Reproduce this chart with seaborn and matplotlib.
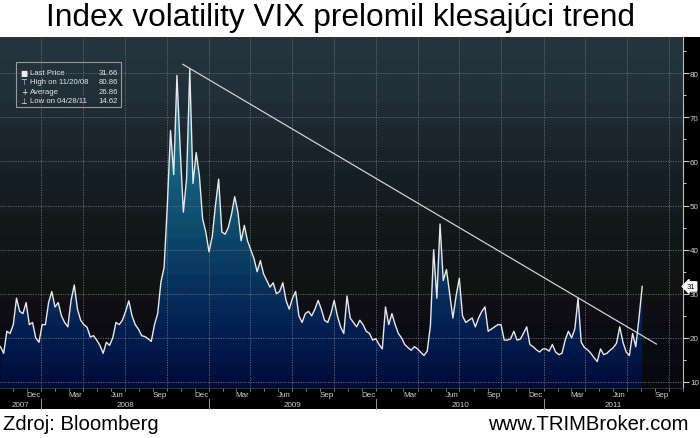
import numpy as np
import pandas as pd
import matplotlib
matplotlib.use("Agg")
import matplotlib.pyplot as plt
import matplotlib.dates as mdates
import matplotlib.transforms as mtransforms
from matplotlib.patches import Rectangle
from matplotlib.colors import to_rgb
import seaborn as sns

# ---------------- data ----------------
title = "Index volatility VIX prelomil klesajúci trend"
source_text = "Zdroj: Bloomberg"
site_text = "www.TRIMBroker.com"

start_date = "2007-10-04"          # first weekly (Thursday) observation
vix_weekly = [
    18.0, 16.5, 21.5, 21.0, 23.0, 29.0, 26.0, 25.5, 28.0, 23.0,
    23.5, 20.0, 19.0, 23.0, 23.0, 28.0, 30.5, 27.0, 28.0, 25.0,
    23.5, 22.5, 28.5, 32.0, 26.5, 24.0, 23.0, 22.4, 20.2, 20.5,
    19.5, 18.3, 16.5, 19.0, 18.3, 20.0, 23.5, 23.0, 24.0, 26.0,
    28.4, 25.0, 23.0, 22.0, 20.5, 20.3, 19.8, 19.2, 23.0, 25.5,
    32.6, 36.0, 50.0, 67.0, 57.0, 79.5, 63.0, 48.5, 56.0, 80.86,
    55.0, 62.0, 56.7, 47.0, 44.0, 39.5, 43.0, 50.0, 56.0, 44.0,
    43.5, 45.0, 48.0, 52.0, 48.5, 42.0, 45.5, 42.0, 40.0, 38.0,
    35.0, 37.5, 34.5, 33.0, 31.5, 32.5, 30.0, 30.5, 32.5, 28.5,
    26.5, 29.0, 30.5, 25.0, 23.5, 25.5, 26.0, 25.0, 26.5, 28.5,
    26.5, 24.0, 23.5, 25.5, 28.5, 25.0, 22.5, 21.0, 29.5, 24.5,
    23.5, 22.5, 24.0, 23.0, 21.5, 21.0, 19.5, 19.8, 18.5, 17.5,
    27.0, 23.0, 25.5, 23.0, 21.0, 20.0, 18.5, 17.8, 17.2, 18.0,
    17.5, 16.7, 16.0, 17.0, 22.8, 40.0, 29.0, 45.8, 33.0, 35.5,
    30.0, 24.5, 29.5, 33.5, 25.0, 23.5, 24.0, 24.5, 22.5, 24.5,
    26.0, 27.0, 21.5, 22.0, 22.5, 23.0, 23.0, 19.5, 19.5, 19.8,
    21.5, 19.5, 19.7, 21.0, 22.5, 18.5, 18.0, 17.3, 16.8, 17.5,
    17.5, 17.0, 18.5, 16.8, 16.2, 16.5, 19.5, 21.5, 20.0, 22.0,
    29.0, 19.0, 17.8, 17.3, 16.5, 15.5, 14.62, 17.5, 16.2, 16.5,
    17.2, 17.8, 18.8, 22.5, 19.0, 16.8, 16.0, 21.0, 18.0, 24.5,
    31.66,
]

trend_dates = ["2008-11-05", "2011-09-04"]
trend_values = [82.0, 18.6]

legend_labels = ["Last Price", "High on 11/20/08", "Average", "Low on 04/28/11"]
legend_values = ["31.66", "80.86", "26.86", "14.62"]
legend_icons = ["\u25A0", "\u22A4", "+", "\u22A5"]

y_ticks = [10, 20, 30, 40, 50, 60, 70, 80]
month_label_months = [12, 3, 6, 9]
year_labels = [2007, 2008, 2009, 2010, 2011]
last_tag = "31"

# ---------------- figure ----------------
W, H = 700, 439
fig = plt.figure(figsize=(W / 100, H / 100), dpi=100, facecolor="white")

chart_top, chart_bottom = 38, 410          # black Bloomberg panel (pixels)
ax_left, ax_right, ax_top, ax_bottom = 0, 683, 38, 389

fig.patches.append(Rectangle((0, (H - chart_bottom) / H), 1, (chart_bottom - chart_top) / H,
                             transform=fig.transFigure, facecolor="black", edgecolor="none", zorder=-5))

ax = fig.add_axes([ax_left / W, (H - ax_bottom) / H, (ax_right - ax_left) / W, (ax_bottom - ax_top) / H])
ax.set_zorder(2)
ax.set_facecolor("black")

dates = pd.date_range(start_date, periods=len(vix_weekly), freq="7D")
df = pd.DataFrame({"date": dates, "vix": vix_weekly})

xmin = mdates.date2num(pd.Timestamp("2007-10-03"))
xmax = mdates.date2num(pd.Timestamp("2011-11-01"))
ymin, ymax = 8.64, 88.2

def blend(c1, c2, t):
    a, b = np.array(to_rgb(c1)), np.array(to_rgb(c2))
    return a + (b - a) * t

def stop_color(stops, t):
    for (t0, c0), (t1, c1) in zip(stops[:-1], stops[1:]):
        if t <= t1:
            return blend(c0, c1, (t - t0) / (t1 - t0))
    return np.array(to_rgb(stops[-1][1]))

# stepped background bands
bg_stops = [(0.0, "#08080e"), (0.18, "#0c0c16"), (0.28, "#121313"), (0.38, "#0f1616"),
            (0.5, "#131b1e"), (0.62, "#182028"), (0.75, "#1d2932"), (0.88, "#22323b"), (1.0, "#24363f")]
nbg = 16
bg = np.array([stop_color(bg_stops, (i + 0.5) / nbg) for i in range(nbg)]).reshape(nbg, 1, 3)
ax.imshow(bg, extent=[xmin, xmax, ymin, ymax], aspect="auto", origin="lower",
          interpolation="nearest", zorder=0)

# area fill with stepped gradient clipped to the data polygon
fill_stops = [(0.0, "#000b38"), (0.15, "#021d50"), (0.3, "#08325e"), (0.45, "#0d4a6c"),
              (0.65, "#166482"), (0.85, "#2180a0"), (1.0, "#2a8fb0")]
nf = 28
fg = np.array([stop_color(fill_stops, (i + 0.5) / nf) for i in range(nf)]).reshape(nf, 1, 3)
poly = ax.fill_between(df["date"], df["vix"], ymin, facecolor="none", linewidth=0)
im = ax.imshow(fg, extent=[xmin, xmax, ymin, ymax], aspect="auto", origin="lower",
               interpolation="nearest", zorder=1)
im.set_clip_path(poly.get_paths()[0], ax.transData)

# grid
for yv in y_ticks:
    ax.axhline(yv, color="#6e6e6e", lw=0.6, ls=(0, (1.5, 1.5)), zorder=1.5)
qloc = mdates.MonthLocator(bymonth=[1, 4, 7, 10])
for xv in qloc.tick_values(mdates.num2date(xmin), mdates.num2date(xmax)):
    if xmin < xv < xmax:
        ax.axvline(xv, color="#6e6e6e", lw=0.6, ls=(0, (1.5, 1.5)), zorder=1.5)

# price line
sns.lineplot(data=df, x="date", y="vix", ax=ax, color="#e8e8e8", lw=1.0, zorder=3)

# trend line
ax.plot(pd.to_datetime(trend_dates), trend_values, color="#d0d0d0", lw=0.9, zorder=4)

ax.set_xlim(xmin, xmax)
ax.set_ylim(ymin, ymax)
ax.set_xlabel("")
ax.set_ylabel("")

# y axis on the right
ax.yaxis.tick_right()
ax.set_yticks(y_ticks)
ax.set_yticklabels([str(v) for v in y_ticks])
ax.set_yticks([15, 25, 35, 45, 55, 65, 75, 85], minor=True)
ax.tick_params(axis="y", which="major", length=4, width=0.8, color="#cfcfcf",
               labelsize=5.8, labelcolor="#d8d8d8", pad=1)
ax.tick_params(axis="y", which="minor", length=2.5, width=0.7, color="#cfcfcf")
for lab in ax.get_yticklabels():
    lab.set_fontfamily(["Liberation Sans", "DejaVu Sans"])

# x axis: month labels at mid-month, monthly minor ticks
mid_ticks, mid_labels = [], []
for m in pd.date_range("2007-10-01", "2011-11-01", freq="MS"):
    if m.month in month_label_months:
        mid_ticks.append(mdates.date2num(m + pd.Timedelta(days=14)))
        mid_labels.append(m.strftime("%b"))
ax.set_xticks(mid_ticks)
ax.set_xticklabels(mid_labels)
ax.xaxis.set_minor_locator(mdates.MonthLocator())
ax.tick_params(axis="x", which="major", length=0, labelsize=5.8, labelcolor="#d0d0d0", pad=2.5)
ax.tick_params(axis="x", which="minor", length=2, width=0.6, color="#9a9a9a")
for lab in ax.get_xticklabels():
    lab.set_fontfamily(["Liberation Sans", "DejaVu Sans"])

for side in ["top", "left"]:
    ax.spines[side].set_visible(False)
ax.spines["right"].set_color("#bdbdbd")
ax.spines["right"].set_linewidth(0.8)
ax.spines["bottom"].set_color("#3a3a3a")
ax.spines["bottom"].set_linewidth(0.6)

# year labels and separators
trans = mtransforms.blended_transform_factory(ax.transData, ax.transAxes)
for yr in year_labels:
    y0 = max(mdates.date2num(pd.Timestamp(f"{yr}-01-01")), xmin)
    y1 = min(mdates.date2num(pd.Timestamp(f"{yr + 1}-01-01")), xmax)
    ax.text((y0 + y1) / 2, -0.047, str(yr), transform=trans, ha="center", va="center",
            fontsize=5.8, color="#d0d0d0", family=["Liberation Sans", "DejaVu Sans"], clip_on=False)
    sep = mdates.date2num(pd.Timestamp(f"{yr}-01-01"))
    if xmin < sep < xmax:
        ax.plot([sep, sep], [-0.03, -0.06], transform=trans, color="#9a9a9a", lw=0.7, clip_on=False)

# legend box
ax.add_patch(Rectangle((16 / 683, 1 - 70 / 351), 105 / 683, 45 / 351, transform=ax.transAxes,
                       facecolor="none", edgecolor="#9a9a9a", lw=0.8, zorder=6))
row_y = [73.3, 82.7, 92.3, 101.7]
for ic, lab, val, ry in zip(legend_icons, legend_labels, legend_values, row_y):
    yy = 1 - (ry - 38) / 351
    ax.text(24 / 683, yy, ic, transform=ax.transAxes, ha="center", va="center", fontsize=5.5,
            color="#eeeeee", family=["DejaVu Sans"], zorder=7)
    ax.text(30 / 683, yy, lab, transform=ax.transAxes, ha="left", va="center", fontsize=5.6,
            color="#e4e4e4", family=["Liberation Sans", "DejaVu Sans"], zorder=7)
    ax.text(118 / 683, yy, val, transform=ax.transAxes, ha="right", va="center", fontsize=5.6,
            color="#e4e4e4", family=["Liberation Sans", "DejaVu Sans"], zorder=7)

# last price tag on the right axis
ytrans = mtransforms.blended_transform_factory(ax.transAxes, ax.transData)
ax.text(1.006, vix_weekly[-1], last_tag, transform=ytrans, ha="left", va="center", fontsize=5.5,
        color="black", family=["Liberation Sans", "DejaVu Sans"], clip_on=False, zorder=8,
        bbox=dict(boxstyle="larrow,pad=0.15", facecolor="white", edgecolor="white"))

# title and footer
fig.text(340 / W, 1 - 18 / H, title, ha="center", va="center", fontsize=22.8, color="black",
         family=["Liberation Sans Narrow", "Liberation Sans", "DejaVu Sans"])
fig.text(3 / W, 1 - 425 / H, source_text, ha="left", va="center", fontsize=14.6, color="black",
         family=["Liberation Sans", "DejaVu Sans"])
fig.text(689 / W, 1 - 425 / H, site_text, ha="right", va="center", fontsize=14.6, color="black",
         family=["Liberation Sans", "DejaVu Sans"])

fig.savefig("out.png", dpi=100, facecolor="white")
